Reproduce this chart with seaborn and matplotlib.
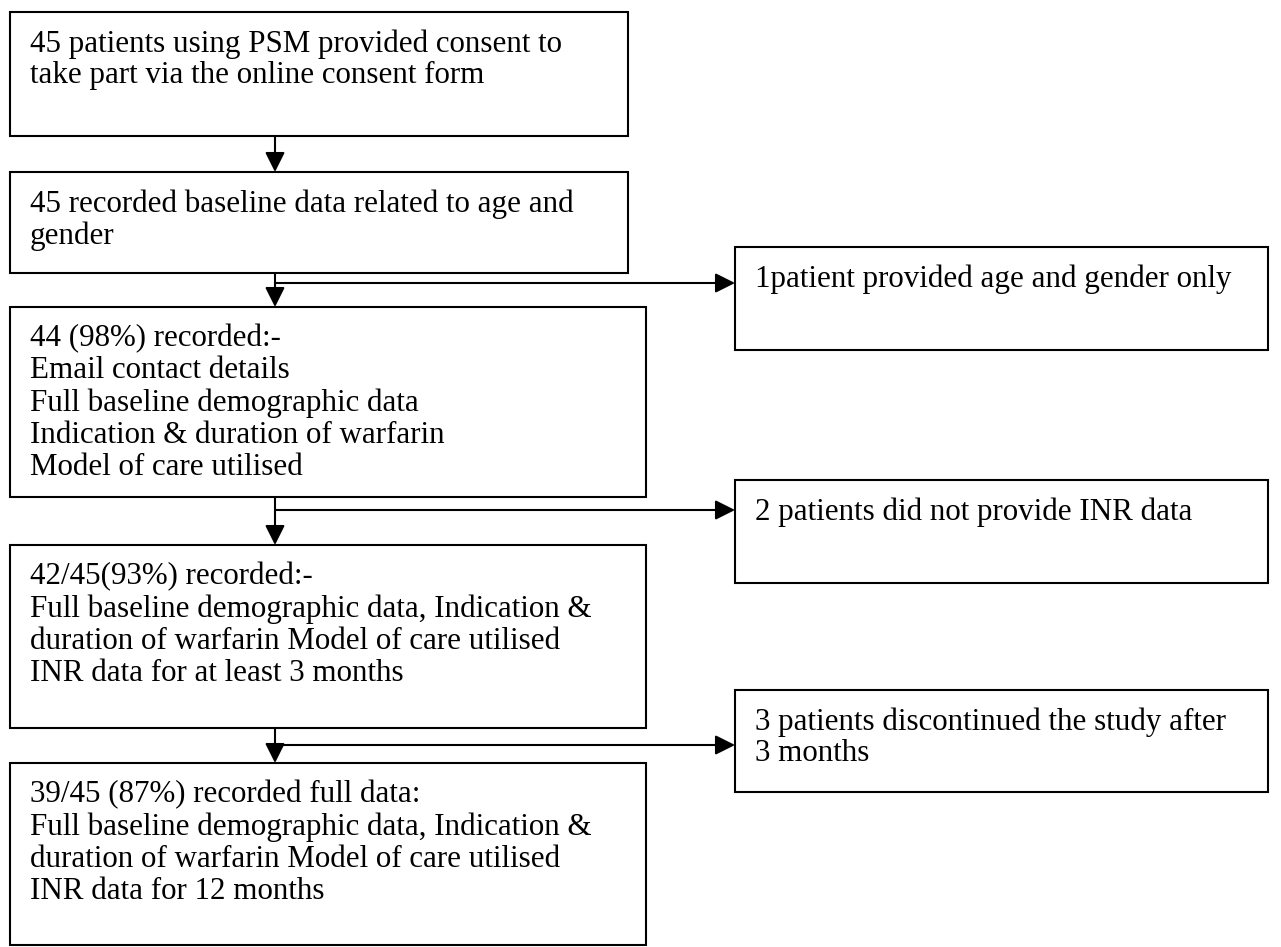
import matplotlib
import matplotlib.pyplot as plt
import seaborn as sns
from matplotlib.patches import Rectangle

matplotlib.use("Agg")

# box texts (main column, top to bottom)
main_texts = [
    "45 patients using PSM provided consent to\ntake part via the online consent form",
    "45 recorded baseline data related to age and\ngender",
    "44 (98%) recorded:-\nEmail contact details\nFull baseline demographic data\n"
    "Indication & duration of warfarin\nModel of care utilised",
    "42/45(93%) recorded:-\nFull baseline demographic data, Indication &\n"
    "duration of warfarin Model of care utilised\nINR data for at least 3 months",
    "39/45 (87%) recorded full data:\nFull baseline demographic data, Indication &\n"
    "duration of warfarin Model of care utilised\nINR data for 12 months",
]
# side boxes (excluded patients)
side_texts = [
    "1patient provided age and gender only",
    "2 patients did not provide INR data",
    "3 patients discontinued the study after\n3 months",
]

# layout in pixel coords (x0, y0, x1, y1)
main_boxes = [(10, 12, 628, 136), (10, 172, 628, 273), (10, 307, 646, 497),
              (10, 545, 646, 728), (10, 763, 646, 945)]
side_boxes = [(735, 247, 1268, 350), (735, 480, 1268, 583), (735, 690, 1268, 792)]
branch_y = [283, 510, 745]
stem_x = 275

sns.set_theme(style="white")
plt.rcParams["font.family"] = ["Liberation Serif", "DejaVu Serif"]

fig = plt.figure(figsize=(12.81, 9.47), dpi=100)
ax = fig.add_axes([0, 0, 1, 1])
ax.set_xlim(0, 1281)
ax.set_ylim(947, 0)
ax.axis("off")

fs = 22.3
lw = 1.5
ls = 1.135

for (x0, y0, x1, y1), txt in zip(main_boxes, main_texts):
    ax.add_patch(Rectangle((x0, y0), x1 - x0, y1 - y0, fill=False,
                           edgecolor="black", linewidth=lw))
    ax.text(x0 + 20, y0 + 17, txt, ha="left", va="top", fontsize=fs,
            linespacing=ls, color="black")

for (x0, y0, x1, y1), txt in zip(side_boxes, side_texts):
    ax.add_patch(Rectangle((x0, y0), x1 - x0, y1 - y0, fill=False,
                           edgecolor="black", linewidth=lw))
    ax.text(x0 + 20, y0 + 17, txt, ha="left", va="top", fontsize=fs,
            linespacing=ls, color="black")

arrow = dict(arrowstyle="-|>,head_length=1.0,head_width=0.5", color="black",
             lw=lw, shrinkA=0, shrinkB=0)

# vertical arrows between main boxes
for i in range(len(main_boxes) - 1):
    ax.annotate("", xy=(stem_x, main_boxes[i + 1][1]),
                xytext=(stem_x, main_boxes[i][3]), arrowprops=arrow)

# side branches
for by, sb in zip(branch_y, side_boxes):
    ax.annotate("", xy=(sb[0], by), xytext=(stem_x, by), arrowprops=arrow)

plt.savefig("out.png", dpi=100)
plt.close()
